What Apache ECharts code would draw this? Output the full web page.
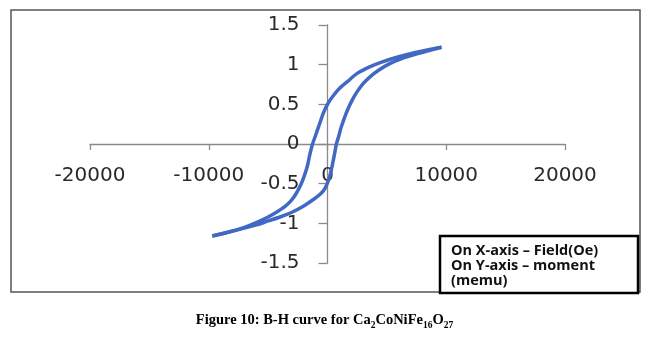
<!DOCTYPE html>
<html>
<head>
<meta charset="utf-8">
<script src="https://cdn.jsdelivr.net/npm/echarts@6/dist/echarts.min.js"></script>
<style>
html,body{margin:0;padding:0;background:#fff;}
#chart{width:649px;height:344px;}
</style>
</head>
<body>
<div id="chart"></div>
<script>
// Descending-field branch (upper branch)
var upperH = [9600, 8500, 7300, 6000, 4500, 3500, 2500, 1700, 1000, 600, 250, 0, -200, -400, -700, -1000, -1260, -1500, -1700, -2000, -2300, -2700, -3100, -3600, -4200, -5000, -6000, -7000, -8300, -9700];
var upperM = [1.22, 1.19, 1.15, 1.10, 1.03, 0.97, 0.89, 0.79, 0.70, 0.63, 0.56, 0.50, 0.44, 0.37, 0.24, 0.11, 0.00, -0.14, -0.28, -0.42, -0.53, -0.64, -0.72, -0.79, -0.85, -0.92, -0.99, -1.05, -1.11, -1.16];
// Ascending-field branch (lower branch)
var lowerH = [-9700, -8300, -7000, -6000, -5000, -4000, -3000, -2000, -1100, -600, -250, 0, 200, 400, 600, 750, 950, 1150, 1450, 1750, 2100, 2500, 3000, 3600, 4300, 5200, 6300, 7600, 9600];
var lowerM = [-1.16, -1.11, -1.06, -1.02, -0.97, -0.92, -0.86, -0.78, -0.69, -0.63, -0.57, -0.49, -0.40, -0.27, -0.12, 0.00, 0.10, 0.21, 0.34, 0.45, 0.56, 0.66, 0.76, 0.85, 0.93, 1.01, 1.08, 1.14, 1.22];
var xTicks = [-20000, -10000, 0, 10000, 20000];
var yTicks = [-1.5, -1, -0.5, 0, 0.5, 1, 1.5];
var legendLines = ['On X-axis \u2013 Field(Oe)', 'On Y-axis \u2013 moment', '(memu)'];

function pairs(h, m) { return h.map(function (v, i) { return [v, m[i]]; }); }

var chart = echarts.init(document.getElementById('chart'), null, {renderer: 'canvas'});
var axisColor = '#8a8a8a';
var blue = '#4169c4';
var gridLeft = 90, gridRight = 84, gridTop = 25, gridBottom = 81;
var gridW = 649 - gridLeft - gridRight, gridH = 344 - gridTop - gridBottom;
var xMin = xTicks[0], xMax = xTicks[xTicks.length - 1];
var yMin = yTicks[0], yMax = yTicks[yTicks.length - 1];
var yZeroFromBottom = gridH * (0 - yMin) / (yMax - yMin);
var xZeroFromLeft = gridW * (0 - xMin) / (xMax - xMin);
chart.setOption({
  animation: false,
  backgroundColor: '#fff',
  grid: {left: gridLeft, right: gridRight, top: gridTop, bottom: gridBottom, containLabel: false},
  xAxis: {
    type: 'value', min: xMin, max: xMax, interval: 10000,
    position: 'bottom', offset: -yZeroFromBottom,
    axisLine: {show: true, onZero: false, lineStyle: {color: axisColor, width: 1.3}},
    axisTick: {show: true, inside: false, length: 6, lineStyle: {color: axisColor, width: 1.3}},
    splitLine: {show: false},
    axisLabel: {margin: 22, fontSize: 20, fontFamily: 'DejaVu Sans', color: '#2a2a2a',
      formatter: function (v) { return String(v); }}
  },
  yAxis: {
    type: 'value', min: yMin, max: yMax, interval: 0.5,
    position: 'left', offset: -xZeroFromLeft,
    axisLine: {show: true, onZero: false, lineStyle: {color: axisColor, width: 1.3}},
    axisTick: {show: true, inside: false, length: 9, lineStyle: {color: axisColor, width: 1.3}},
    splitLine: {show: false},
    axisLabel: {margin: 28, fontSize: 20, fontFamily: 'DejaVu Sans', color: '#2a2a2a',
      formatter: function (v) { return String(v); }}
  },
  series: [
    {type: 'line', data: pairs(upperH, upperM), smooth: 0.3, showSymbol: false, symbol: 'none',
     lineStyle: {color: blue, width: 3.5}},
    {type: 'line', data: pairs(lowerH, lowerM), smooth: 0.3, showSymbol: false, symbol: 'none',
     lineStyle: {color: blue, width: 3.5}}
  ],
  graphic: [
    {type: 'rect', shape: {x: 11, y: 10, width: 629, height: 282}, style: {fill: 'none', stroke: '#555', lineWidth: 1.5}, silent: true},
    {type: 'rect', shape: {x: 440, y: 236, width: 198, height: 57}, style: {fill: '#fff', stroke: '#000', lineWidth: 2.5}, silent: true},
    {type: 'text', left: 451, top: 243, style: {text: legendLines[0], font: 'bold 14.5px "Open Sans"', fill: '#111'}},
    {type: 'text', left: 451, top: 258, style: {text: legendLines[1], font: 'bold 14.5px "Open Sans"', fill: '#111'}},
    {type: 'text', left: 451, top: 273, style: {text: legendLines[2], font: 'bold 14.5px "Open Sans"', fill: '#111'}},
    {type: 'text', left: 'center', top: 313, style: {
      text: '{m|Figure 10: B-H curve for Ca}{s|2}{m|CoNiFe}{s|16}{m|O}{s|27}',
      rich: {
        m: {fontSize: 14.5, fontWeight: 'bold', fontFamily: '"Liberation Serif"', fill: '#000', lineHeight: 18, verticalAlign: 'bottom'},
        s: {fontSize: 9.5, fontWeight: 'bold', fontFamily: '"Liberation Serif"', fill: '#000', lineHeight: 18, verticalAlign: 'bottom', padding: [0, 0, -3, 0]}
      }
    }}
  ]
});
</script>
</body>
</html>
